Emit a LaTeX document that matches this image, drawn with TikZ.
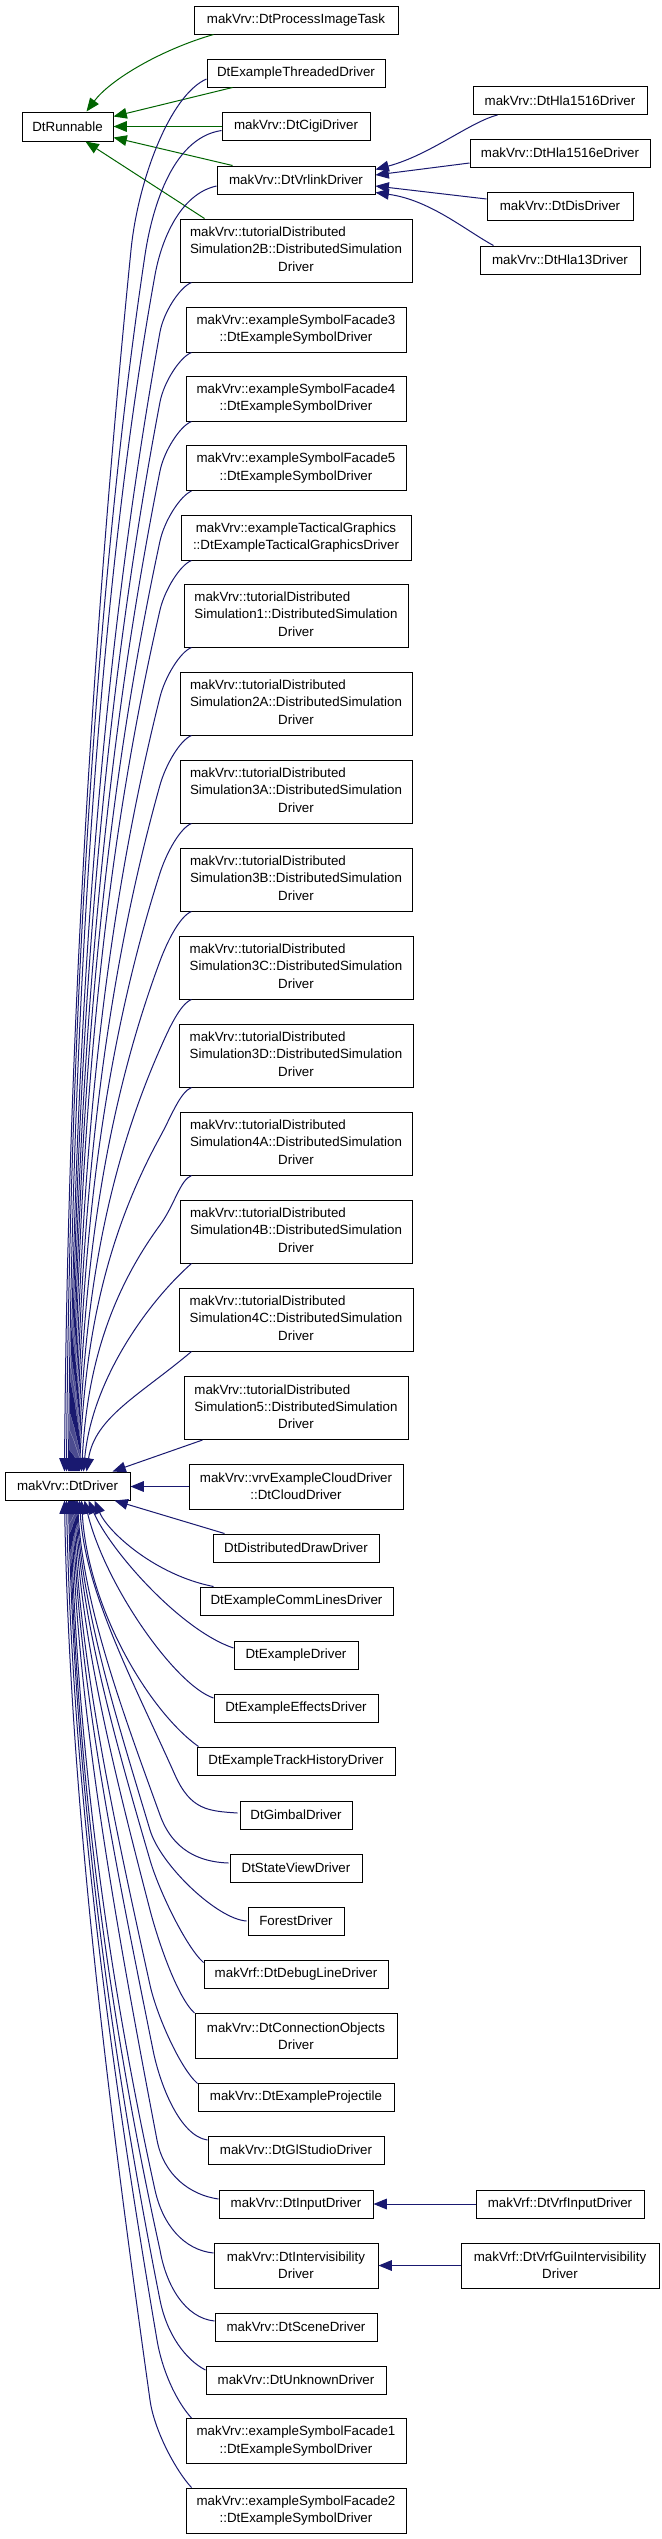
\documentclass[tikz,border=0pt]{standalone}
\usepackage{fontspec}
\setmainfont{Liberation Sans}
\usetikzlibrary{arrows.meta,calc}
\definecolor{navyedge}{HTML}{191970}
\definecolor{greenedge}{HTML}{006400}
\newcommand\nd[6]{\node[nodebox, minimum width=#4*0.75pt, minimum height=#5*0.75pt] (#1) at (#2,#3) {#6};}
\newcommand\tut[1]{\begin{tabular}{@{}l@{}}makVrv::tutorialDistributed\\Simulation#1::DistributedSimulation\\\multicolumn{1}{@{}c@{}}{Driver}\end{tabular}}
\begin{document}
\begin{tikzpicture}[x=0.75pt,y=-0.75pt,
 nodebox/.style={draw=black, fill=white, line width=0.75pt, inner sep=0pt, font=\fontsize{10}{13}\selectfont, align=center},
 bluearr/.style={draw=navyedge, line width=0.75pt, -{Triangle[length=10pt,width=8pt]}},
 greenarr/.style={draw=greenedge, line width=0.75pt, -{Triangle[length=10pt,width=8pt]}}]
\fill[white] (0,0) rectangle (661,2539);
\useasboundingbox (0,0) rectangle (661,2539);
% nodes
\nd{pit}{296}{20}{204}{28}{makVrv::DtProcessImageTask}
\nd{thr}{296}{73}{178}{28}{DtExampleThreadedDriver}
\nd{run}{67.5}{126.5}{91}{29}{DtRunnable}
\nd{cigi}{296}{126.5}{148}{28}{makVrv::DtCigiDriver}
\nd{vrlink}{296}{180}{158}{28}{makVrv::DtVrlinkDriver}
\nd{tBB}{296}{250.5}{232}{63}{\tut{2B}}
\nd{hlaA}{560}{100.5}{174}{28}{makVrv::DtHla1516Driver}
\nd{hlaE}{560}{153}{180}{28}{makVrv::DtHla1516eDriver}
\nd{dis}{560}{206}{146}{28}{makVrv::DtDisDriver}
\nd{hlaT}{560}{260}{160}{28}{makVrv::DtHla13Driver}
\nd{fC}{296}{329.5}{220}{45}{makVrv::exampleSymbolFacade3\\::DtExampleSymbolDriver}
\nd{fD}{296}{398.5}{220}{45}{makVrv::exampleSymbolFacade4\\::DtExampleSymbolDriver}
\nd{fE}{296}{468}{220}{45}{makVrv::exampleSymbolFacade5\\::DtExampleSymbolDriver}
\nd{tac}{296}{537.5}{230}{45}{makVrv::exampleTacticalGraphics\\::DtExampleTacticalGraphicsDriver}
\nd{tA}{296}{615.5}{224}{63}{\tut{1}}
\nd{tBA}{296}{703.5}{232}{63}{\tut{2A}}
\nd{tCA}{296}{791.5}{232}{63}{\tut{3A}}
\nd{tCB}{296}{879.5}{232}{63}{\tut{3B}}
\nd{tCC}{296}{967.5}{234}{63}{\tut{3C}}
\nd{tCD}{296}{1055.5}{234}{63}{\tut{3D}}
\nd{tDA}{296}{1143.5}{232}{63}{\tut{4A}}
\nd{tDB}{296}{1231.5}{232}{63}{\tut{4B}}
\nd{tDC}{296}{1319.5}{234}{63}{\tut{4C}}
\nd{tE}{296}{1408}{224}{63}{\tut{5}}
\nd{cloud}{296}{1486.5}{214}{45}{makVrv::vrvExampleCloudDriver\\::DtCloudDriver}
\nd{drv}{67.5}{1486}{125}{28}{makVrv::DtDriver}
\nd{ddd}{296}{1548}{166}{28}{DtDistributedDrawDriver}
\nd{comm}{296.5}{1601}{193}{28}{DtExampleCommLinesDriver}
\nd{exd}{296}{1655}{124}{28}{DtExampleDriver}
\nd{eff}{296}{1708}{164}{28}{DtExampleEffectsDriver}
\nd{trk}{296}{1761}{198}{28}{DtExampleTrackHistoryDriver}
\nd{gim}{296}{1815}{112}{28}{DtGimbalDriver}
\nd{sv}{296}{1868}{132}{28}{DtStateViewDriver}
\nd{frs}{296}{1921}{96}{28}{ForestDriver}
\nd{dbg}{296}{1974}{184}{28}{makVrf::DtDebugLineDriver}
\nd{con}{296}{2036}{202}{45}{makVrv::DtConnectionObjects\\Driver}
\nd{proj}{296}{2097}{196}{28}{makVrv::DtExampleProjectile}
\nd{gls}{296}{2150}{176}{28}{makVrv::DtGlStudioDriver}
\nd{inp}{296}{2204}{154}{28}{makVrv::DtInputDriver}
\nd{vin}{560}{2204}{168}{28}{makVrf::DtVrfInputDriver}
\nd{ivis}{296}{2265.5}{164}{45}{makVrv::DtIntervisibility\\Driver}
\nd{gui}{560}{2265.5}{198}{45}{makVrf::DtVrfGuiIntervisibility\\Driver}
\nd{scn}{296}{2327}{162}{28}{makVrv::DtSceneDriver}
\nd{unk}{296}{2380}{180}{28}{makVrv::DtUnknownDriver}
\nd{fA}{296}{2441}{220}{45}{makVrv::exampleSymbolFacade1\\::DtExampleSymbolDriver}
\nd{fB}{296}{2510.5}{220}{45}{makVrv::exampleSymbolFacade2\\::DtExampleSymbolDriver}
% green edges to DtRunnable
\draw[greenarr] ($(pit.south west)+(20,0)$) .. controls (160,50) and (110,80) .. ($(run.north west)+(65,0)$);
\draw[greenarr] ($(thr.south west)+(26,0)$) -- ($(run.north east)+(0,5)$);
\draw[greenarr] (cigi.west) -- (run.east);
\draw[greenarr] ($(vrlink.north west)+(16,0)$) -- ($(run.south east)+(0,-4)$);
\draw[greenarr] ($(tBB.north west)+(25,0)$) -- ($(run.south west)+(64,0)$);
% edges to DtVrlinkDriver
\draw[bluearr] ($(hlaA.south west)+(25,0)$) .. controls (470,122) and (430,155) .. ($(vrlink.north east)+(0,4)$);
\draw[bluearr] ($(hlaE.west)+(0,10)$) -- ($(vrlink.east)+(0,-5)$);
\draw[bluearr] ($(dis.west)+(0,-7)$) -- ($(vrlink.east)+(0,6)$);
\draw[bluearr] ($(hlaT.north west)+(14,0)$) .. controls (465,230) and (430,200) .. ($(vrlink.south east)+(0,-2)$);
% other inheritances
\draw[bluearr] (vin.west) -- (inp.east);
\draw[bluearr] (gui.west) -- (ivis.east);
% upper edges to DtDriver
\draw[bluearr] ($(thr.west)+(0,6)$) .. controls (170,95) and (138,180) .. (131,250) .. controls (100.5,555) and (68,983) .. ($(drv.north west)+(60,0)$);
\draw[bluearr] ($(cigi.west)+(0,4)$) .. controls (170,138) and (151,215) .. (145,255) .. controls (99.4,559) and (70,987) .. ($(drv.north west)+(62,0)$);
\draw[bluearr] ($(vrlink.west)+(0,6)$) .. controls (180,194) and (161.3,240) .. (155,275) .. controls (101,574) and (72,993) .. ($(drv.north west)+(64,0)$);
\draw[bluearr] ($(tBB.south west)+(12,0)$) .. controls (180,287) and (163.6,312) .. (160,332) .. controls (91.6,712) and (74,1092) .. ($(drv.north west)+(65,0)$);
\draw[bluearr] ($(fC.south west)+(6,0)$) .. controls (180,357) and (163.8,382) .. (160,402) .. controls (92.2,759) and (75,1115) .. ($(drv.north west)+(66,0)$);
\draw[bluearr] ($(fD.south west)+(6,0)$) .. controls (180,426) and (164,451) .. (160,471) .. controls (93.3,805) and (76,1138) .. ($(drv.north west)+(67,0)$);
\draw[bluearr] ($(fE.south west)+(6,0)$) .. controls (180,496) and (164.3,521) .. (160,541) .. controls (93.3,851) and (77,1162) .. ($(drv.north west)+(68,0)$);
\draw[bluearr] ($(tac.south west)+(11,0)$) .. controls (180,565) and (164.6,590) .. (160,610) .. controls (93.9,897) and (78,1185) .. ($(drv.north west)+(69,0)$);
\draw[bluearr] ($(tA.south west)+(8,0)$) .. controls (180,652) and (165,677) .. (160,697) .. controls (95.4,955) and (79,1214) .. ($(drv.north west)+(70,0)$);
\draw[bluearr] ($(tBA.south west)+(12,0)$) .. controls (180,740) and (165.6,765) .. (160,785) .. controls (95.9,1014) and (80,1243) .. ($(drv.north west)+(71,0)$);
\draw[bluearr] ($(tCA.south west)+(12,0)$) .. controls (180,828) and (166.4,853) .. (160,873) .. controls (96.1,1073) and (81,1272) .. ($(drv.north west)+(72,0)$);
\draw[bluearr] ($(tCB.south west)+(12,0)$) .. controls (180,916) and (167.4,941) .. (160,961) .. controls (97,1131) and (82,1302) .. ($(drv.north west)+(73,0)$);
\draw[bluearr] ($(tCC.south west)+(13,0)$) .. controls (180,1004) and (168.8,1029) .. (160,1049) .. controls (98,1190) and (83,1331) .. ($(drv.north west)+(74,0)$);
\draw[bluearr] ($(tCD.south west)+(13,0)$) .. controls (180,1092) and (171,1117) .. (160,1137) .. controls (98.6,1249) and (84,1360) .. ($(drv.north west)+(75,0)$);
\draw[bluearr] ($(tDA.south west)+(12,0)$) .. controls (180,1180) and (174.6,1205) .. (160,1225) .. controls (100,1307) and (86,1390) .. ($(drv.north west)+(77,0)$);
\draw[bluearr] ($(tDB.south west)+(12,0)$) .. controls (150,1300) and (92,1378) .. ($(drv.north west)+(79,0)$);
\draw[bluearr] ($(tDC.south west)+(13,0)$) .. controls (140,1395) and (95,1417) .. ($(drv.north west)+(82,0)$);
\draw[bluearr] ($(tE.south west)+(19,0)$) -- ($(drv.north west)+(108,0)$);
% lower edges to DtDriver
\draw[bluearr] (cloud.west) -- (cloud.west -| drv.east);
\draw[bluearr] ($(ddd.north west)+(12,0)$) -- ($(drv.south west)+(110,0)$);
\draw[bluearr] ($(comm.north west)+(14,0)$) .. controls (155,1575) and (108,1532) .. ($(drv.south west)+(90,0)$);
\draw[bluearr] ($(exd.west)+(0,-7)$) .. controls (180,1630) and (110,1550) .. ($(drv.south west)+(84,0)$);
\draw[bluearr] ($(eff.west)+(0,-10)$) .. controls (175,1685) and (105,1585) .. ($(drv.south west)+(80,0)$);
\draw[bluearr] ($(trk.north west)+(2,0)$) .. controls (150,1712) and (88,1610) .. ($(drv.south west)+(77,0)$);
\draw[bluearr] ($(gim.west)+(-2,-2)$) .. controls (208,1811) and (190.75,1810) .. (175,1775) .. controls (134,1683) and (85,1592) .. ($(drv.south west)+(75,0)$);
\draw[bluearr] ($(sv.west)+(-1,-5)$) .. controls (199,1862) and (172.6,1850) .. (160,1815) .. controls (122,1710) and (83,1605) .. ($(drv.south west)+(73,0)$);
\draw[bluearr] ($(frs.west)+(-1,0)$) .. controls (217,1919) and (160.5,1865) .. (150,1830) .. controls (117,1720) and (82,1610) .. ($(drv.south west)+(72,0)$);
\draw[bluearr] ($(dbg.north west)+(0,3)$) .. controls (186,1947) and (158.7,1890) .. (150,1860) .. controls (115,1740) and (81,1620) .. ($(drv.south west)+(71,0)$);
\draw[bluearr] (con.north west) .. controls (177,1997) and (157.8,1940) .. (150,1910) .. controls (114.5,1773) and (80,1637) .. ($(drv.south west)+(70,0)$);
\draw[bluearr] ($(proj.north west)+(0,1)$) .. controls (180,2068) and (156.6,2015) .. (150,1985) .. controls (114.4,1823) and (79,1662) .. ($(drv.south west)+(69,0)$);
\draw[bluearr] ($(gls.west)+(0,-10)$) .. controls (180,2136) and (160,2085) .. (153,2050) .. controls (116.3,1867) and (78,1683) .. ($(drv.south west)+(68,0)$);
\draw[bluearr] ($(inp.west)+(0,-5)$) .. controls (190,2195) and (163.6,2175) .. (157,2140) .. controls (116.5,1927) and (77,1713) .. ($(drv.south west)+(67,0)$);
\draw[bluearr] ($(ivis.west)+(0,-12.5)$) .. controls (184,2250) and (162.7,2225) .. (155,2190) .. controls (104.4,1960) and (76,1730) .. ($(drv.south west)+(66,0)$);
\draw[bluearr] ($(scn.west)+(0,-6)$) .. controls (185,2318) and (166,2285) .. (160,2250) .. controls (105,2000) and (75,1750) .. ($(drv.south west)+(65,0)$);
\draw[bluearr] ($(unk.west)+(0,-10)$) .. controls (186,2360) and (167,2335) .. (160,2300) .. controls (107,2033) and (74,1767) .. ($(drv.south west)+(64,0)$);
\draw[bluearr] ($(fA.north west)+(6,0)$) .. controls (176,2401) and (162,2370) .. (157,2340) .. controls (109.4,2060) and (72,1780) .. ($(drv.south west)+(62,0)$);
\draw[bluearr] ($(fB.north west)+(6,0)$) .. controls (176,2471) and (154,2430) .. (150,2400) .. controls (108,2100) and (70,1800) .. ($(drv.south west)+(60,0)$);
\end{tikzpicture}
\end{document}
